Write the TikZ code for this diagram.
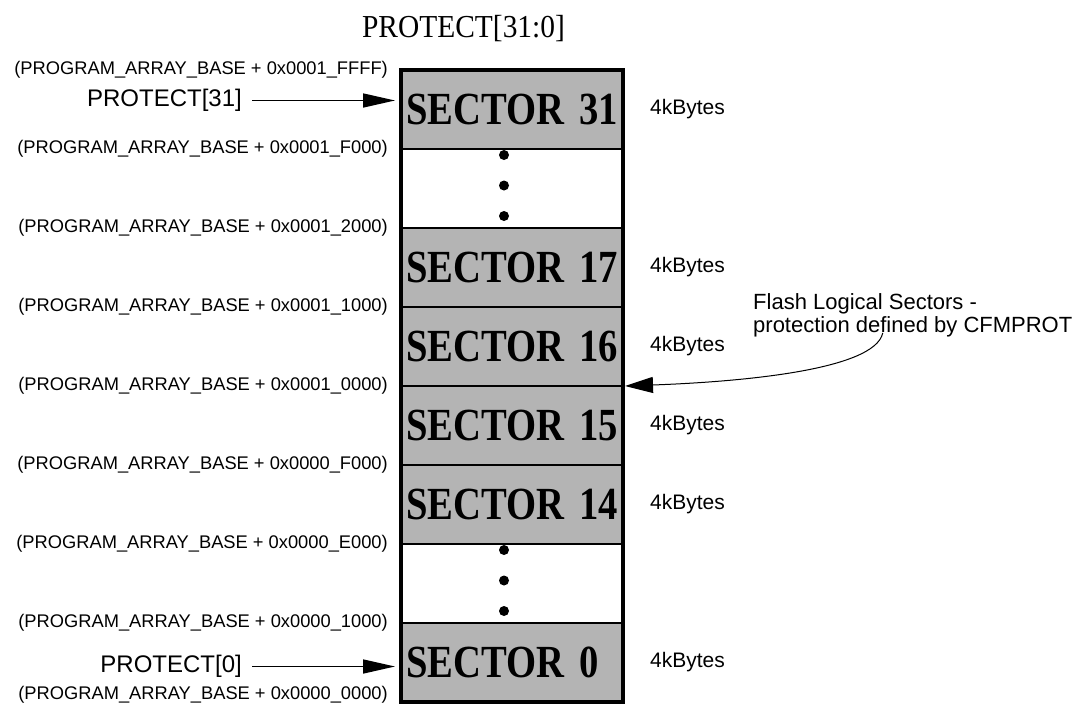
\documentclass[tikz,border=0pt]{standalone}
\usepackage{fontspec}
\setmainfont{Liberation Sans}
\newfontfamily\sectorfont[FakeStretch=0.84, BoldFeatures={FakeStretch=0.84}]{Liberation Serif}
\newfontfamily\titlefont[FakeStretch=0.92]{Liberation Serif}
\usetikzlibrary{arrows.meta,positioning}
\definecolor{sectorgray}{RGB}{180,180,180}

\begin{document}
\begin{tikzpicture}[
  x=1pt, y=-1pt,
  node distance=0pt,
  sector/.style={draw, line width=2.5pt, fill=sectorgray, minimum height=79pt, text width=212pt, inner xsep=5pt, inner ysep=0pt, outer sep=0pt, align=left, font=\sectorfont\bfseries\fontsize{46}{50}\selectfont},
  gap/.style={sector, fill=white},
  addr/.style={inner sep=0pt, font=\fontsize{18.3}{20}\selectfont},
  size/.style={inner sep=0pt, font=\fontsize{21}{23}\selectfont},
  prot/.style={inner sep=0pt, font=\fontsize{24}{28}\selectfont},
  dot/.style={circle, fill, inner sep=0pt, minimum size=10pt},
  arr/.style={-{Triangle[length=32pt,width=14pt]}, line width=1.6pt},
  thinarr/.style={-{Triangle[length=28pt,width=16pt]}, line width=1pt}
]
  \useasboundingbox (0,0) rectangle (1079,707);

  \node[font=\titlefont\fontsize{32}{36}\selectfont] (ttl) at (463.5,29) {PROTECT[31:0]};

  \node[sector] (s31) at (512,109.5) {\mbox{SECTOR 31}};
  \node[gap, below=of s31] (g1) {};
  \node[sector, below=of g1] (s17) {\mbox{SECTOR 17}};
  \node[sector, below=of s17] (s16) {\mbox{SECTOR 16}};
  \node[sector, below=of s16] (s15) {\mbox{SECTOR 15}};
  \node[sector, below=of s15] (s14) {\mbox{SECTOR 14}};
  \node[gap, below=of s14] (g2) {};
  \node[sector, below=of g2] (s0) {\mbox{SECTOR 0}};
  \draw[line width=3.2pt] (s31.north west) rectangle (s0.south east);

  \foreach \g in {g1,g2}
    \foreach \k in {-1,0,1}
      \node[dot] (\g-\k) at ([xshift=-8pt, yshift=3pt-\k*30.5pt]\g.center) {};

  \node[addr, left=13pt of s31.north west] (a1) {(PROGRAM\_ARRAY\_BASE + 0x0001\_FFFF)};
  \node[addr, left=13pt of s31.south west] (a2) {(PROGRAM\_ARRAY\_BASE + 0x0001\_F000)};
  \node[addr, left=13pt of g1.south west] (a3) {(PROGRAM\_ARRAY\_BASE + 0x0001\_2000)};
  \node[addr, left=13pt of s17.south west] (a4) {(PROGRAM\_ARRAY\_BASE + 0x0001\_1000)};
  \node[addr, left=13pt of s16.south west] (a5) {(PROGRAM\_ARRAY\_BASE + 0x0001\_0000)};
  \node[addr, left=13pt of s15.south west] (a6) {(PROGRAM\_ARRAY\_BASE + 0x0000\_F000)};
  \node[addr, left=13pt of s14.south west] (a7) {(PROGRAM\_ARRAY\_BASE + 0x0000\_E000)};
  \node[addr, left=13pt of g2.south west] (a8) {(PROGRAM\_ARRAY\_BASE + 0x0000\_1000)};
  \node[addr, left=13pt of s0.south west, yshift=7pt] (a9) {(PROGRAM\_ARRAY\_BASE + 0x0000\_0000)};

  \node[size, right=27pt of s31] (k31) {4kBytes};
  \node[size, right=27pt of s17] (k17) {4kBytes};
  \node[size, right=27pt of s16] (k16) {4kBytes};
  \node[size, right=27pt of s15] (k15) {4kBytes};
  \node[size, right=27pt of s14] (k14) {4kBytes};
  \node[size, right=27pt of s0] (k0) {4kBytes};

  \node[prot, left=159pt of s31.west, yshift=9pt] (p31) {PROTECT[31]};
  \node[prot, left=159pt of s0.west, yshift=-4pt] (p0) {PROTECT[0]};
  \draw[arr, shorten <=10pt, shorten >=6pt] (p31.east) -- (p31.east -| s31.west);
  \draw[arr, shorten <=10pt, shorten >=6pt] (p0.east) -- (p0.east -| s0.west);

  \node[size, font=\fontsize{22}{23}\selectfont, align=left, anchor=north west] (flash) at (753,293) {Flash Logical Sectors -\\protection defined by CFMPROT};
  \draw[thinarr] ([xshift=-30pt, yshift=4pt]flash.south) .. controls +(-8,38) and +(110,-4) .. ([xshift=2pt]s16.south east);
\end{tikzpicture}
\end{document}
